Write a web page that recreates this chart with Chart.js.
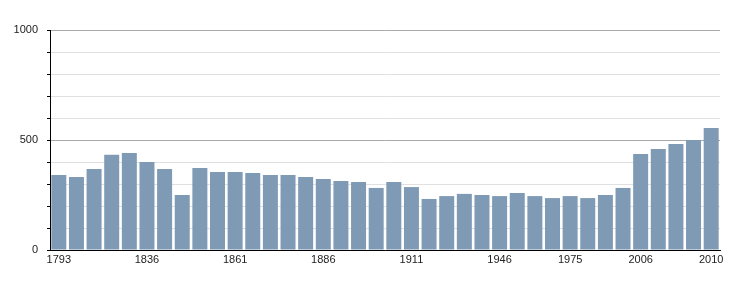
<!DOCTYPE html>
<html>
<head>
<meta charset="utf-8">
<script src="https://cdn.jsdelivr.net/npm/chart.js@4/dist/chart.umd.min.js"></script>
<style>
  html, body { margin: 0; padding: 0; background: #fff; }
  #wrap { width: 750px; height: 300px; }
</style>
</head>
<body>
<div id="wrap"><canvas id="c" width="750" height="300"></canvas></div>
<script>
const years = ['1793','1800','1806','1821','1831','1836','1841','1846','1851','1856',
  '1861','1866','1872','1876','1881','1886','1891','1896','1901','1906',
  '1911','1921','1926','1931','1936','1946','1954','1962','1968','1975',
  '1982','1990','1999','2006','2007','2008','2009','2010'];
const population = [341,332,368,433,441,400,368,250,373,355,
  355,350,341,341,332,323,314,309,282,309,
  286,232,245,255,250,245,259,245,236,245,
  236,250,282,436,459,482,500,555];
const shownYears = ['1793','1836','1861','1886','1911','1946','1975','2006','2010'];
const yLabels = [0, 500, 1000];

new Chart(document.getElementById('c'), {
  type: 'bar',
  data: {
    labels: years,
    datasets: [{
      data: population,
      backgroundColor: '#7f9ab4',
      borderWidth: 0,
      barPercentage: 0.85,
      categoryPercentage: 1.0
    }]
  },
  options: {
    responsive: false,
    animation: false,
    layout: { padding: { left: 0, right: 30, top: 30, bottom: 0 } },
    plugins: { legend: { display: false }, tooltip: { enabled: false } },
    scales: {
      x: {
        afterFit: (s) => { s.height = 50; },
        grid: { display: false, drawTicks: false },
        border: { display: true, color: '#000', width: 1 },
        ticks: {
          autoSkip: false,
          maxRotation: 0,
          padding: 3,
          color: '#222',
          font: { family: 'Liberation Sans', size: 11 },
          callback: function (v, i) {
            const l = years[i];
            return shownYears.includes(l) ? l : '';
          }
        }
      },
      y: {
        min: 0,
        max: 1000,
        afterFit: (s) => { s.width = 50; },
        border: { display: true, color: '#000', width: 1 },
        grid: {
          color: (ctx) => (ctx.tick && ctx.tick.value % 500 === 0) ? '#aaaaaa' : '#e0e0e0',
          tickColor: '#000',
          tickLength: 3,
          drawTicks: true
        },
        ticks: {
          stepSize: 100,
          padding: 9,
          color: '#222',
          font: { family: 'Liberation Sans', size: 11 },
          callback: (v) => yLabels.includes(v) ? String(v) : ''
        }
      }
    }
  }
});
</script>
</body>
</html>
